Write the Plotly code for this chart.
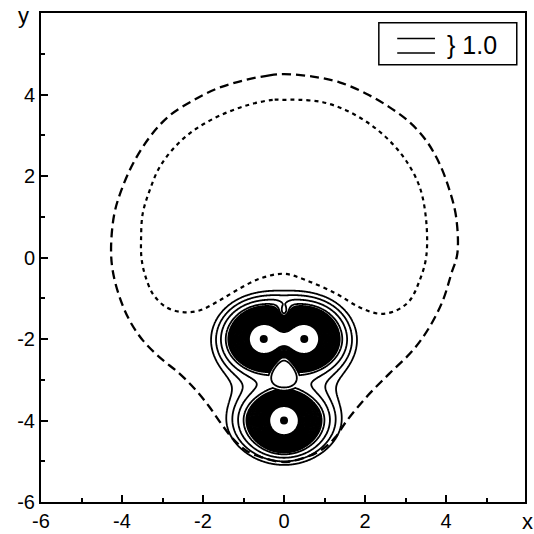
import numpy as np
import plotly.graph_objects as go

# ---- molecular frame: nuclear positions ----
atom_x = [-0.5, 0.5, 0.0]
atom_y = [-2.0, -2.0, -4.0]

# compact (core) density: amplitude and directional scale lengths
core_amp = [30.0, 30.0, 30.0]
core_sx = [1.0, 1.0, 1.05]
core_sy_up = [0.89, 0.89, 0.76]
core_sy_dn = [0.82, 0.82, 0.92]
core_decay = 0.2

# diffuse (valence tail) density
halo_amp = [1.0, 1.0, 1.0]
halo_sx = [1.0, 1.0, 1.2]
halo_sy_up = [0.80, 0.80, 1.0]
halo_sy_dn = [0.85, 0.85, 0.75]
halo_decay = 0.5

# bond charge between the upper pair
bond_xy = (0.0, -2.0)
bond_amp = 2.6
bond_sx, bond_sy = 0.40, 0.14

# depleted pocket above the pair: (x, y, sx, sy, depth)
dips = [(0.0, -1.35, 0.18, 0.24, 0.75)]

# low-density cavity between the pair and the lower centre
pear_xy = (0.0, -2.86)
pear_sx, pear_sy = 0.30, 0.33
pear_level = 1.12

# contour levels, expressed as equivalent radius
dense_levels = dict(start=0.36, end=0.86, size=0.02)
outer_levels = dict(start=0.92, end=1.26, size=0.113)

# diffuse-orbital contours (outer = dashed, inner = dotted)
outer_x = [0.0, -0.36, -1.02, -1.67, -2.25, -2.83, -3.32, -3.73, -4.02, -4.19, -4.27,
           -4.23, -4.06, -3.81, -3.48, -3.07, -2.58, -2.17, -1.84, -1.55, -1.26, -0.93,
           -0.44, 0.0, 0.45, 0.93, 1.26, 1.54, 2.03, 2.60, 3.18, 3.59, 3.92, 4.13, 4.28,
           4.25, 4.09, 3.84, 3.51, 3.10, 2.60, 2.03, 1.37, 0.71, 0.0]
outer_y = [4.50, 4.47, 4.34, 4.14, 3.85, 3.48, 2.95, 2.30, 1.64, 1.07, 0.25,
           -0.32, -0.97, -1.55, -2.04, -2.45, -2.85, -3.26, -3.67, -4.08, -4.45, -4.74,
           -4.94, -5.02, -4.93, -4.72, -4.42, -4.02, -3.43, -2.85, -2.28, -1.71, -1.06, -0.40, 0.10,
           0.99, 1.64, 2.30, 2.87, 3.32, 3.69, 4.02, 4.30, 4.44, 4.50]
inner_x = [0.0, -0.28, -0.93, -1.59, -2.17, -2.66, -3.07, -3.32, -3.49, -3.53, -3.52,
           -3.44, -3.24, -2.91, -2.50, -2.09, -1.67, -1.18, -0.60, 0.0, 0.55, 1.29,
           1.86, 2.36, 2.77, 3.10, 3.35, 3.51, 3.51, 3.35, 3.01, 2.60, 2.11, 1.54,
           0.96, 0.38, 0.0]
inner_y = [3.87, 3.87, 3.73, 3.48, 3.16, 2.75, 2.22, 1.64, 1.07, 0.42, 0.0,
           -0.40, -0.89, -1.22, -1.34, -1.30, -1.10, -0.81, -0.52, -0.40, -0.56, -0.89,
           -1.22, -1.38, -1.30, -1.06, -0.56, 0.01, 0.91, 1.73, 2.38, 2.87, 3.28, 3.61,
           3.81, 3.87, 3.87]

x_ticks = [-6, -4, -2, 0, 2, 4]
y_ticks = [-6, -4, -2, 0, 2, 4]
tick_text = ["-6", "-4", "-2", "0", "2", "4"]
minor_ticks = [-5, -3, -1, 1, 3, 5]


def radius(dx, dy, sx, su, sd):
    """Distance that is round close to a nucleus and elliptical further out."""
    sy = np.where(dy >= 0, su, sd)
    d_ell = np.hypot(dx / sx, dy / sy)
    rho = np.hypot(dx, dy)
    w = np.clip((rho - 0.3) / 0.6, 0.0, 1.0)
    return (1 - w) * rho + w * d_ell


gx = np.linspace(-2.6, 2.6, 261)
gy = np.linspace(-5.6, 0.2, 291)
X, Y = np.meshgrid(gx, gy)

F = np.zeros_like(X)
for i in range(len(atom_x)):
    dx = X - atom_x[i]
    dy = Y - atom_y[i]
    F += core_amp[i] * np.exp(-radius(dx, dy, core_sx[i], core_sy_up[i], core_sy_dn[i]) / core_decay)
    F += halo_amp[i] * np.exp(-radius(dx, dy, halo_sx[i], halo_sy_up[i], halo_sy_dn[i]) / halo_decay)
F += bond_amp * np.exp(-((X - bond_xy[0]) / bond_sx) ** 2 - ((Y - bond_xy[1]) / bond_sy) ** 2)
for cx, cy, sx, sy, depth in dips:
    F *= 1 - depth * np.exp(-((X - cx) / sx) ** 2 - ((Y - cy) / sy) ** 2)

# map density to the radius at which an isolated centre has the same value
r = np.linspace(0.0, 6.0, 3001)
p = 30.0 * np.exp(-r / core_decay) + np.exp(-r / halo_decay)
Z = np.interp(-np.log(np.maximum(F, 1e-30)), -np.log(p), r)

# flat-bottomed cavity, narrower towards its upper tip
dyp = Y - pear_xy[1]
taper = 1 - 0.35 * np.clip(dyp / pear_sy, -1, 1)
q2 = ((X - pear_xy[0]) / (pear_sx * taper)) ** 2 + (dyp / pear_sy) ** 2
Z = np.maximum(Z, pear_level - 0.087 * q2 ** 2)
Z = np.round(Z, 4)

fig = go.Figure()
for lev in (dense_levels, outer_levels):
    fig.add_trace(go.Contour(
        x=gx, y=gy, z=Z, autocontour=False,
        contours=dict(coloring="none", showlabels=False, **lev),
        line=dict(color="black", width=1.8, smoothing=1),
        showscale=False, hoverinfo="skip"))

fig.add_trace(go.Scatter(x=outer_x, y=outer_y, mode="lines",
                         line=dict(color="black", width=2.3, dash="9px,5px", shape="spline"),
                         hoverinfo="skip"))
fig.add_trace(go.Scatter(x=inner_x, y=inner_y, mode="lines",
                         line=dict(color="black", width=2.2, dash="4px,4px", shape="spline"),
                         hoverinfo="skip"))
fig.add_trace(go.Scatter(x=atom_x, y=atom_y, mode="markers",
                         marker=dict(color="black", size=8), hoverinfo="skip"))

axis_font = dict(family="Liberation Sans, Arial, sans-serif", size=20, color="black")
common = dict(showline=True, mirror=True, linecolor="black", linewidth=2,
              ticks="inside", ticklen=7, tickwidth=1.5, tickcolor="black",
              showgrid=False, zeroline=False, tickfont=axis_font, automargin=False,
              minor=dict(ticks="inside", ticklen=4, tickwidth=1.5, tickcolor="black",
                         tickvals=minor_ticks, showgrid=False))
fig.update_xaxes(range=[-6, 5.95], tickvals=x_ticks, ticktext=tick_text, **common)
fig.update_yaxes(range=[-6, 6], tickvals=y_ticks, ticktext=tick_text, **common)

# key box
fig.add_shape(type="rect", xref="paper", yref="paper", x0=0.698, x1=0.983, y0=0.894, y1=0.980,
              line=dict(color="black", width=1.5), fillcolor="white")
for yy in (0.948, 0.918):
    fig.add_shape(type="line", xref="paper", yref="paper", x0=0.736, x1=0.814, y0=yy, y1=yy,
                  line=dict(color="black", width=1.5))
fig.add_annotation(xref="paper", yref="paper", x=0.834, y=0.935, text="} 1.0", showarrow=False,
                   xanchor="left", yanchor="middle",
                   font=dict(family=axis_font["family"], size=25, color="black"))
fig.add_annotation(xref="paper", yref="paper", x=-0.037, y=0.995, text="y", showarrow=False,
                   xanchor="center", yanchor="middle", font=dict(family=axis_font["family"], size=22, color="black"))
fig.add_annotation(xref="paper", yref="paper", x=1.006, y=-0.04, text="x", showarrow=False,
                   xanchor="center", yanchor="middle", font=dict(family=axis_font["family"], size=22, color="black"))

fig.update_layout(width=534, height=534, margin=dict(l=41, r=9, t=13, b=32, autoexpand=False),
                  plot_bgcolor="white", paper_bgcolor="white", showlegend=False,
                  hovermode=False)
fig.write_html("out.html")
